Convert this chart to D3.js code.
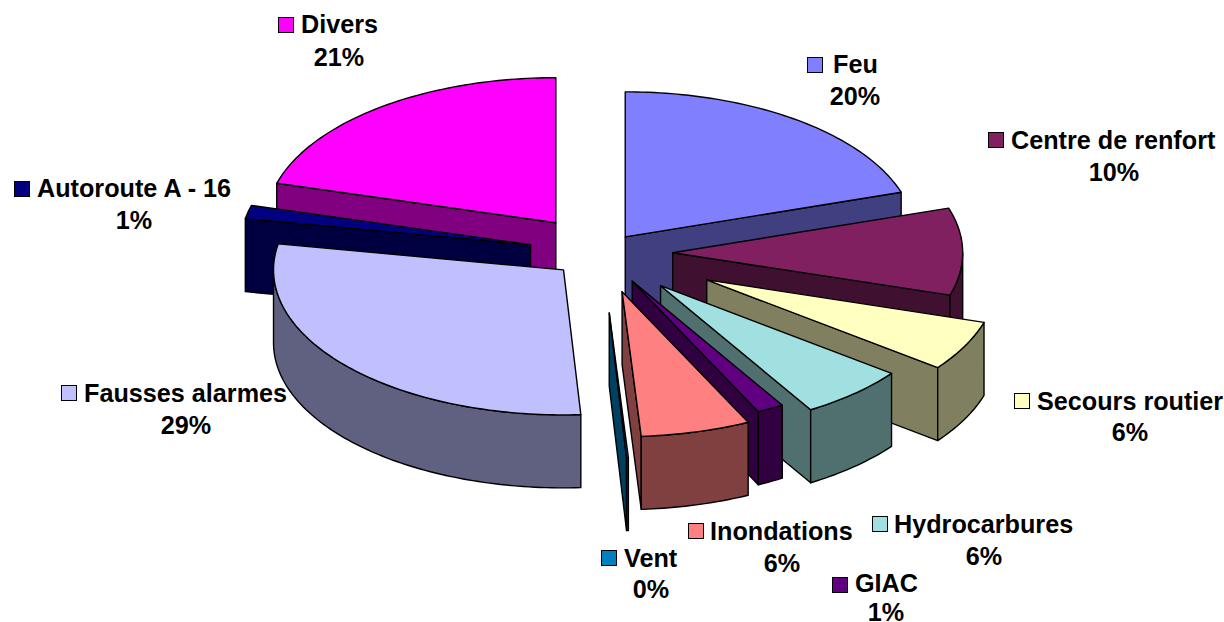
<!DOCTYPE html>
<html>
<head>
<meta charset="utf-8">
<script src="https://cdn.jsdelivr.net/npm/d3@7"></script>
<style>
    html, body { margin: 0; padding: 0; background: #fff; overflow: hidden; }
    text { font-family: "Liberation Sans", Arial, sans-serif; font-weight: bold; font-size: 25.2px; fill: #000; }
</style>
</head>
<body>
<div id="chart"></div>
<script>
// Data
const categories = ["Feu", "Centre de renfort", "Secours routier", "Hydrocarbures", "GIAC", "Inondations", "Vent", "Fausses alarmes", "Autoroute A - 16", "Divers"];
const shares = [20, 9.7, 5.6, 6, 1.5, 6.1, 0.1, 28.8, 1.5, 20.6];
const shareLabels = ["20%", "10%", "6%", "6%", "1%", "6%", "0%", "29%", "1%", "21%"];

// Styling and layout
const colors = ["#8080ff", "#802060", "#ffffc0", "#a0e0e0", "#600080", "#ff8080", "#0080c0", "#c0c0ff", "#000080", "#ff00ff"];
const explode = [40, 71, 118, 88, 64, 80, 120, 51, 73, 76];
const paintOrder = [9, 0, 8, 1, 7, 2, 3, 4, 5, 6];
// key left, key top, name left, name baseline, percent centre, percent baseline
const labelPos = [
    [807, 57, 833, 73, 855, 105],
    [988, 132, 1011, 149, 1114, 181],
    [1014, 393, 1037, 410, 1130, 441],
    [872, 516, 894, 533, 984, 565],
    [832, 577, 855, 592, 886, 621],
    [688, 523, 710, 540, 782, 572],
    [601, 550, 624, 567, 651, 598],
    [61, 385, 84, 402, 186, 434],
    [14, 181, 37, 197, 134, 229],
    [278, 17, 301, 33, 339, 66]
];

const width = 1224, height = 622;
const cx = 601.7, cy = 253, rx = 290, ry = 145, depth = 73;

const svg = d3.select("#chart").append("svg")
    .attr("width", width)
    .attr("height", height)
    .style("display", "block");

const pie = d3.pie().sort(null).value(d => d);
const arcs = pie(shares);
const line = d3.line();

// angle is clockwise from 12 o'clock, as in d3.pie
const project = (a, r, o, drop) => [
    o[0] + rx * r * Math.sin(a),
    o[1] - ry * r * Math.cos(a) + drop
];

// sample the rim between two angles
const rim = (a0, a1, o, drop) => {
    const n = Math.max(2, Math.ceil((a1 - a0) / 0.02));
    return d3.range(n + 1).map(i => project(a0 + (a1 - a0) * i / n, 1, o, drop));
};

const shade = c => {
    const k = d3.rgb(c);
    return d3.rgb(k.r / 2, k.g / 2, k.b / 2).formatHex();
};

const drawFace = (points, fill) => svg.append("path")
    .attr("d", line(points) + "Z")
    .attr("fill", fill)
    .attr("stroke", "#000")
    .attr("stroke-width", 1.4)
    .attr("stroke-linejoin", "round");

paintOrder.forEach(i => {
    const d = arcs[i];
    const mid = (d.startAngle + d.endAngle) / 2;
    const apex = [cx + explode[i] * Math.sin(mid), cy - explode[i] * Math.cos(mid) * ry / rx];
    const dark = shade(colors[i]);

    // radial walls, only when they face the viewer
    [[d.endAngle, Math.sin(d.endAngle) > 0], [d.startAngle, Math.sin(d.startAngle) < 0]].forEach(([a, visible]) => {
        if (!visible) return;
        drawFace([
            apex,
            project(a, 1, apex, 0),
            project(a, 1, apex, depth),
            [apex[0], apex[1] + depth]
        ], dark);
    });

    // outer wall, front half of the ellipse only
    const w0 = Math.max(d.startAngle, Math.PI / 2);
    const w1 = Math.min(d.endAngle, Math.PI * 1.5);
    if (w1 > w0) {
        drawFace(rim(w0, w1, apex, 0).concat(rim(w0, w1, apex, depth).reverse()), dark);
    }

    // top face
    drawFace([apex].concat(rim(d.startAngle, d.endAngle, apex, 0)), colors[i]);
});

// Labels
const labels = svg.selectAll("g.label").data(categories).enter()
    .append("g")
    .attr("class", "label");

labels.append("rect")
    .attr("x", (d, i) => labelPos[i][0] + 0.5)
    .attr("y", (d, i) => labelPos[i][1] + 0.5)
    .attr("width", 15)
    .attr("height", 15)
    .attr("fill", (d, i) => colors[i])
    .attr("stroke", "#000")
    .attr("stroke-width", 1);

labels.append("text")
    .attr("x", (d, i) => labelPos[i][2])
    .attr("y", (d, i) => labelPos[i][3])
    .text(d => d);

labels.append("text")
    .attr("x", (d, i) => labelPos[i][4])
    .attr("y", (d, i) => labelPos[i][5])
    .attr("text-anchor", "middle")
    .text((d, i) => shareLabels[i]);
</script>
</body>
</html>
